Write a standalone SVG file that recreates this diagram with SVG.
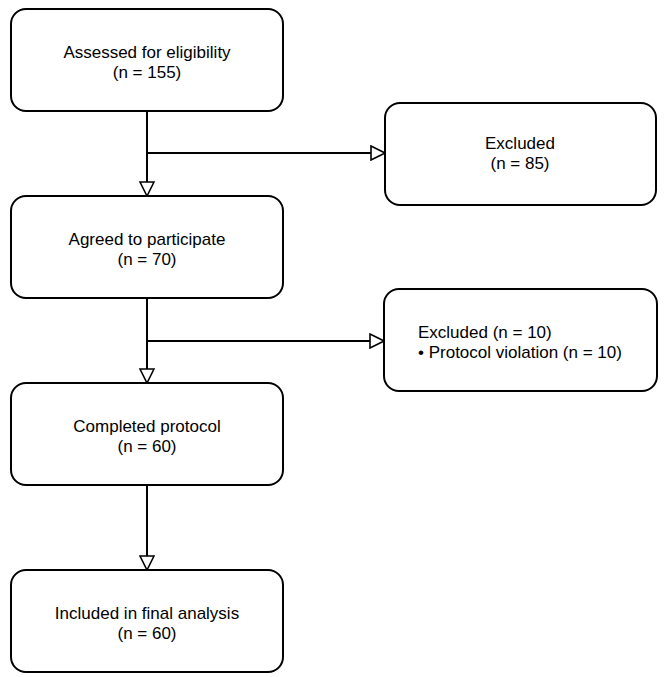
<svg xmlns="http://www.w3.org/2000/svg" width="669" height="677" viewBox="0 0 669 677">
<defs>
<marker id="tri" viewBox="0 0 16 16" refX="15" refY="8" markerWidth="16" markerHeight="16" markerUnits="userSpaceOnUse" orient="auto">
<path d="M1,1 L15,8 L1,15 Z" fill="#fff" stroke="#000" stroke-width="1.6"/>
</marker>
</defs>
<style>
.box{fill:#fff;stroke:#000;stroke-width:2}
.t{font-family:"Liberation Sans",Arial,sans-serif;font-size:17px;fill:#000}
.c{text-anchor:middle}
.ln{fill:none;stroke:#000;stroke-width:2}
</style>
<rect width="669" height="677" fill="#fff"/>
<g id="connectors">
<line class="ln" x1="147" y1="111" x2="147" y2="196" marker-end="url(#tri)"/>
<line class="ln" x1="147" y1="153" x2="385" y2="153" marker-end="url(#tri)"/>
<line class="ln" x1="147" y1="298" x2="147" y2="383" marker-end="url(#tri)"/>
<line class="ln" x1="147" y1="341" x2="384" y2="341" marker-end="url(#tri)"/>
<line class="ln" x1="147" y1="485" x2="147" y2="570" marker-end="url(#tri)"/>
</g>
<g id="assessed">
<rect class="box" x="11" y="9" width="272" height="102" rx="15"/>
<text class="t c" x="147" y="58">Assessed for eligibility</text>
<text class="t c" x="147" y="78">(n = 155)</text>
</g>
<g id="excluded1">
<rect class="box" x="385" y="103" width="271" height="102" rx="15"/>
<text class="t c" x="520" y="149">Excluded</text>
<text class="t c" x="520" y="169">(n = 85)</text>
</g>
<g id="agreed">
<rect class="box" x="11" y="196" width="272" height="102" rx="15"/>
<text class="t c" x="147" y="245">Agreed to participate</text>
<text class="t c" x="147" y="265">(n = 70)</text>
</g>
<g id="excluded2">
<rect class="box" x="384" y="289" width="273" height="102" rx="15"/>
<text class="t" x="418" y="338">Excluded (n = 10)</text>
<text class="t" x="418" y="358">• Protocol violation (n = 10)</text>
</g>
<g id="completed">
<rect class="box" x="11" y="383" width="272" height="102" rx="15"/>
<text class="t c" x="147" y="432">Completed protocol</text>
<text class="t c" x="147" y="452">(n = 60)</text>
</g>
<g id="included">
<rect class="box" x="11" y="570" width="272" height="102" rx="15"/>
<text class="t c" x="147" y="619">Included in final analysis</text>
<text class="t c" x="147" y="639">(n = 60)</text>
</g>
</svg>
